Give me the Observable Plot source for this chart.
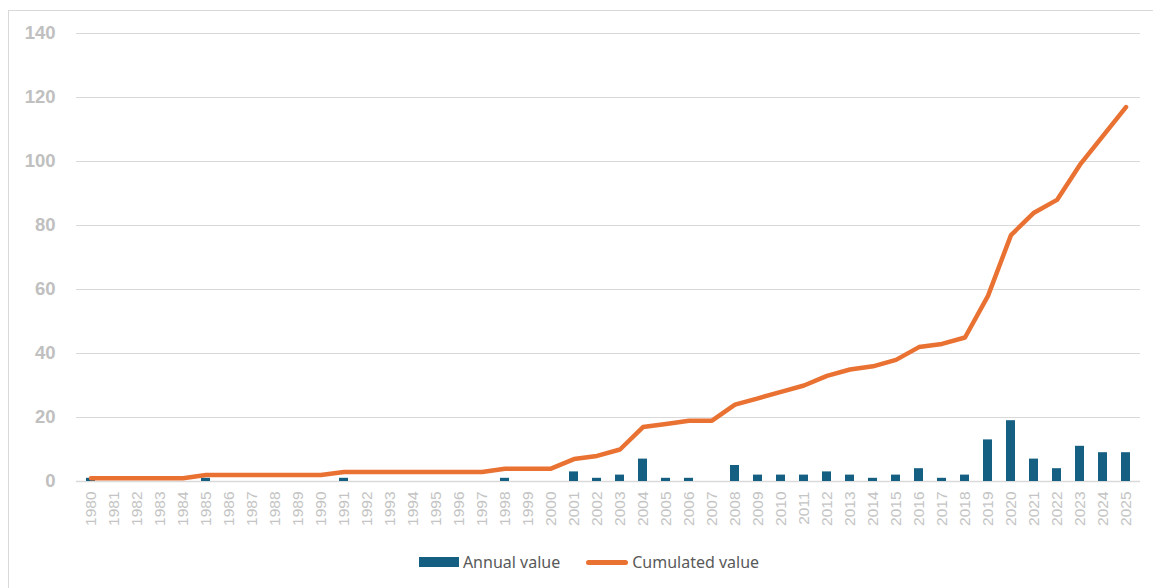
<!DOCTYPE html>
<html>
<head>
<meta charset="utf-8">
<script src="https://cdn.jsdelivr.net/npm/d3@7"></script>
<script src="https://cdn.jsdelivr.net/npm/@observablehq/plot@0.6"></script>
<style>
  html, body { margin: 0; padding: 0; background: #fff; width: 1153px; height: 588px; overflow: hidden; }
  #frame { position: absolute; left: 8px; top: 10px; width: 1160px; height: 600px; border: 1.5px solid #d9d9d9; box-sizing: border-box; }
  #chart { position: absolute; left: 0; top: 0; }
  #legend { position: absolute; top: 551px; left: 0; width: 1153px; display: flex; justify-content: center; align-items: center; font-family: "Noto Sans", "Open Sans", sans-serif; font-size: 16px; color: #595959; padding-left: 25px; box-sizing: border-box; }
  .item { display: flex; align-items: center; margin: 0 13px; }
  .swatch-bar { width: 40px; height: 10px; background: #156082; margin-right: 4px; }
  .swatch-line { width: 42px; height: 5px; border-radius: 2.5px; background: #E97132; margin-right: 4px; }
</style>
</head>
<body>
<div id="frame"></div>
<div id="chart"></div>
<div id="legend">
  <div class="item"><div class="swatch-bar"></div><span>Annual value</span></div>
  <div class="item"><div class="swatch-line"></div><span>Cumulated value</span></div>
</div>
<script>
const years = ["1980","1981","1982","1983","1984","1985","1986","1987","1988","1989",
  "1990","1991","1992","1993","1994","1995","1996","1997","1998","1999",
  "2000","2001","2002","2003","2004","2005","2006","2007","2008","2009",
  "2010","2011","2012","2013","2014","2015","2016","2017","2018","2019",
  "2020","2021","2022","2023","2024","2025"];
const annual = [1,0,0,0,0,1,0,0,0,0,
  0,1,0,0,0,0,0,0,1,0,
  0,3,1,2,7,1,1,0,5,2,
  2,2,3,2,1,2,4,1,2,13,
  19,7,4,11,9,9];
const cumulated = [1,1,1,1,1,2,2,2,2,2,
  2,3,3,3,3,3,3,3,4,4,
  4,7,8,10,17,18,19,19,24,26,
  28,30,33,35,36,38,42,43,45,58,
  77,84,88,99,108,117];
const yTicks = [0,20,40,60,80,100,120,140];

const data = years.map((y, i) => ({year: y, annual: annual[i], cumulated: cumulated[i]}));

const chart = Plot.plot({
  width: 1153,
  height: 540,
  marginLeft: 76,
  marginRight: 13,
  marginTop: 33,
  marginBottom: 59,
  style: {background: "transparent", fontFamily: "'Liberation Sans', Arial, sans-serif"},
  x: {domain: years, type: "band", paddingInner: 0.6, paddingOuter: 0.3, label: null},
  y: {domain: [0, 140], label: null},
  marks: [
    Plot.gridY(yTicks, {stroke: "#d9d9d9", strokeOpacity: 1, strokeWidth: 1.2}),
    Plot.axisY(yTicks, {tickSize: 0, tickPadding: 21, fontSize: 18.5, fontWeight: "bold", fill: "#c0c0c0", label: null}),
    Plot.axisX({tickSize: 0, tickRotate: -90, tickPadding: 10, fontSize: 15.5, fill: "#c4c4c4", label: null}),
    Plot.ruleY([0], {stroke: "#d9d9d9", strokeWidth: 1.5}),
    Plot.barY(data, {x: "year", y: "annual", fill: "#156082"}),
    Plot.line(data, {x: "year", y: "cumulated", stroke: "#E97132", strokeWidth: 4.5, strokeLinejoin: "round", strokeLinecap: "round"})
  ]
});
document.getElementById("chart").appendChild(chart);
</script>
</body>
</html>
